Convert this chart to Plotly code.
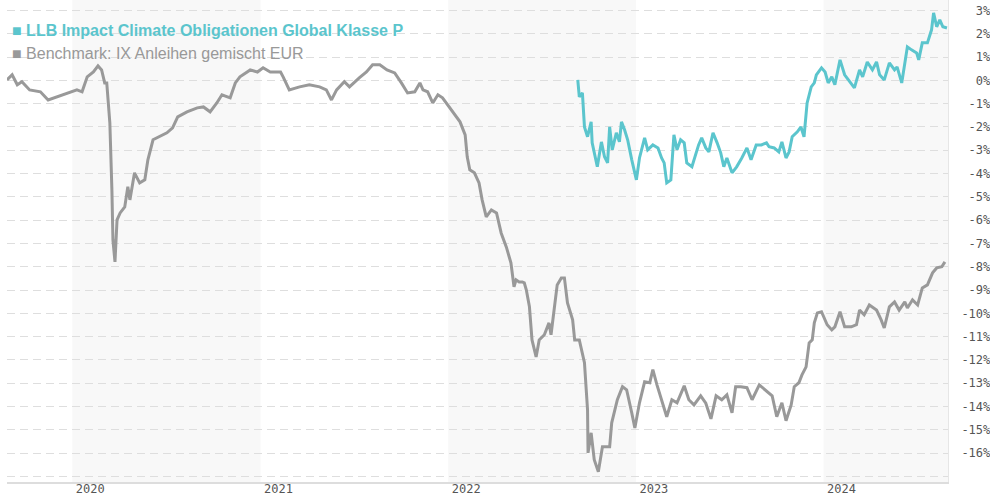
import plotly.graph_objects as go

# ---------------- data ----------------
bench_dates = [
    "2019-08-27", "2019-09-06", "2019-09-16", "2019-09-25", "2019-10-10", "2019-10-31", "2019-11-15",
    "2019-12-02", "2019-12-21", "2020-01-10", "2020-01-20", "2020-01-30", "2020-02-11", "2020-02-20",
    "2020-02-27", "2020-03-04", "2020-03-08", "2020-03-14", "2020-03-18", "2020-03-20", "2020-03-24",
    "2020-03-28", "2020-04-03", "2020-04-12", "2020-04-18", "2020-04-22", "2020-05-01", "2020-05-11",
    "2020-05-21", "2020-05-27", "2020-06-06", "2020-06-19", "2020-07-03", "2020-07-14", "2020-07-24",
    "2020-08-11", "2020-08-31", "2020-09-12", "2020-09-25", "2020-10-08", "2020-10-18", "2020-11-03",
    "2020-11-13", "2020-11-22", "2020-12-12", "2020-12-26", "2021-01-06", "2021-01-20", "2021-02-09",
    "2021-02-14", "2021-02-26", "2021-03-18", "2021-04-06", "2021-04-26", "2021-05-09", "2021-05-19",
    "2021-05-29", "2021-06-13", "2021-06-23", "2021-07-12", "2021-07-26", "2021-08-07", "2021-08-21",
    "2021-09-04", "2021-09-19", "2021-10-02", "2021-10-14", "2021-10-28", "2021-11-07", "2021-11-13",
    "2021-11-22", "2021-12-02", "2021-12-12", "2021-12-21", "2022-01-03", "2022-01-10", "2022-01-24",
    "2022-02-03", "2022-02-07", "2022-02-12", "2022-02-21", "2022-03-02", "2022-03-08", "2022-03-16",
    "2022-03-26", "2022-04-05", "2022-04-14", "2022-04-24", "2022-05-03", "2022-05-09", "2022-05-13",
    "2022-05-19", "2022-05-25", "2022-05-29", "2022-06-02", "2022-06-08", "2022-06-13", "2022-06-21",
    "2022-06-27", "2022-07-07", "2022-07-16", "2022-07-20", "2022-07-26", "2022-08-01", "2022-08-09",
    "2022-08-15", "2022-08-21", "2022-08-31", "2022-09-04", "2022-09-13", "2022-09-23", "2022-09-29",
    "2022-09-30", "2022-10-06", "2022-10-12", "2022-10-20", "2022-10-28", "2022-11-11", "2022-11-15",
    "2022-11-26", "2022-12-06", "2022-12-14", "2022-12-24", "2022-12-30", "2023-01-08", "2023-01-18",
    "2023-01-28", "2023-02-03", "2023-02-11", "2023-02-22", "2023-03-02", "2023-03-12", "2023-03-22",
    "2023-04-05", "2023-04-14", "2023-04-24", "2023-05-07", "2023-05-17", "2023-05-27", "2023-06-06",
    "2023-06-17", "2023-06-27", "2023-07-07", "2023-07-14", "2023-07-24", "2023-08-05", "2023-08-15",
    "2023-08-29", "2023-09-12", "2023-09-23", "2023-10-02", "2023-10-12", "2023-10-20", "2023-10-30",
    "2023-11-05", "2023-11-14", "2023-11-20", "2023-11-28", "2023-12-04", "2023-12-10", "2023-12-14",
    "2023-12-20", "2023-12-28", "2024-01-08", "2024-01-17", "2024-01-23", "2024-02-02", "2024-02-11",
    "2024-02-24", "2024-03-05", "2024-03-11", "2024-03-20", "2024-03-30", "2024-04-13", "2024-04-22",
    "2024-04-28", "2024-05-08", "2024-05-18", "2024-05-27", "2024-06-07", "2024-06-12", "2024-06-22",
    "2024-07-02", "2024-07-11", "2024-07-21", "2024-07-31", "2024-08-08", "2024-08-18", "2024-08-24",
]
bench_values = [
    0.02, 0.24, -0.19, -0.06, -0.41, -0.49, -0.84,
    -0.71, -0.54, -0.41, -0.49, 0.15, 0.36, 0.62,
    0.45, -0.11, -0.11, -1.82, -4.70, -6.85, -7.79,
    -5.99, -5.69, -5.43, -4.57, -5.13, -3.97, -4.40,
    -4.27, -3.41, -2.55, -2.42, -2.25, -2.04, -1.57,
    -1.35, -1.18, -1.14, -1.35, -0.97, -0.62, -0.75,
    -0.11, 0.15, 0.45, 0.36, 0.54, 0.36, 0.36,
    0.15, -0.41, -0.28, -0.19, -0.28, -0.41, -0.84,
    -0.41, -0.06, -0.28, 0.11, 0.36, 0.67, 0.67,
    0.45, 0.32, -0.11, -0.54, -0.49, -0.11, -0.41,
    -0.49, -0.97, -0.62, -0.75, -1.14, -1.39, -1.78,
    -2.34, -3.28, -3.84, -3.97, -4.40, -5.13, -5.86,
    -5.56, -5.69, -6.55, -7.15, -7.83, -8.86, -8.56,
    -8.65, -8.65, -8.69, -9.00, -9.72, -11.14, -11.87,
    -11.14, -10.92, -10.41, -10.92, -9.72, -8.78, -8.48,
    -8.48, -9.55, -10.28, -11.14, -11.14, -12.12, -14.14,
    -15.99, -15.13, -16.28, -16.80, -15.73, -15.73, -14.70,
    -13.71, -13.15, -13.28, -14.27, -14.92, -13.84, -12.94,
    -12.98, -12.42, -13.07, -13.84, -14.44, -13.71, -13.84,
    -13.11, -13.71, -13.93, -13.54, -13.86, -14.53, -13.54,
    -13.71, -13.50, -14.27, -13.15, -13.15, -13.19, -13.71,
    -13.07, -13.33, -13.54, -14.44, -13.84, -14.61, -13.93,
    -13.15, -12.98, -12.64, -12.30, -11.27, -11.14, -10.41,
    -9.98, -9.93, -10.49, -10.71, -10.58, -9.93, -10.58,
    -10.58, -10.49, -9.86, -10.06, -9.64, -9.86, -10.28,
    -10.63, -9.72, -9.51, -9.86, -9.51, -9.77, -9.42,
    -9.64, -8.91, -8.78, -8.26, -8.05, -8.00, -7.79,
]

fund_dates = [
    "2022-09-10", "2022-09-13", "2022-09-19", "2022-09-23", "2022-09-29", "2022-10-06", "2022-10-08",
    "2022-10-18", "2022-10-26", "2022-11-01", "2022-11-07", "2022-11-11", "2022-11-16", "2022-11-24",
    "2022-11-30", "2022-12-04", "2022-12-10", "2022-12-16", "2022-12-24", "2023-01-02", "2023-01-08",
    "2023-01-18", "2023-01-24", "2023-02-03", "2023-02-13", "2023-02-20", "2023-02-25", "2023-03-02",
    "2023-03-10", "2023-03-16", "2023-03-22", "2023-03-29", "2023-04-05", "2023-04-10", "2023-04-20",
    "2023-04-28", "2023-05-03", "2023-05-09", "2023-05-17", "2023-05-23", "2023-05-31", "2023-06-08",
    "2023-06-15", "2023-06-21", "2023-06-27", "2023-07-07", "2023-07-16", "2023-07-26", "2023-08-05",
    "2023-08-13", "2023-08-23", "2023-09-02", "2023-09-12", "2023-09-17", "2023-09-27", "2023-10-06",
    "2023-10-12", "2023-10-20", "2023-10-26", "2023-11-01", "2023-11-11", "2023-11-18", "2023-11-24",
    "2023-11-30", "2023-12-08", "2023-12-14", "2023-12-18", "2023-12-28", "2024-01-04", "2024-01-10",
    "2024-01-17", "2024-01-23", "2024-02-02", "2024-02-11", "2024-02-24", "2024-03-01", "2024-03-11",
    "2024-03-17", "2024-03-26", "2024-04-05", "2024-04-13", "2024-04-19", "2024-04-28", "2024-05-08",
    "2024-05-18", "2024-05-23", "2024-06-01", "2024-06-07", "2024-06-12", "2024-06-20", "2024-06-30",
    "2024-07-04", "2024-07-11", "2024-07-21", "2024-07-29", "2024-08-02", "2024-08-08", "2024-08-14",
    "2024-08-20", "2024-08-28",
]
fund_values = [
    0.02, -0.71, -0.54, -2.00, -2.42, -1.78, -2.68,
    -3.71, -2.64, -3.28, -3.54, -2.00, -2.98, -2.25,
    -2.64, -1.78, -2.12, -2.55, -3.41, -4.27, -3.33,
    -2.47, -2.98, -2.77, -2.90, -3.33, -3.54, -4.40,
    -4.27, -2.34, -2.98, -2.55, -2.68, -3.54, -3.71,
    -3.11, -2.77, -2.47, -2.90, -3.07, -2.25, -2.68,
    -3.11, -3.71, -3.33, -3.97, -3.71, -3.33, -2.90,
    -3.41, -2.77, -2.77, -2.68, -2.85, -2.90, -3.07,
    -2.64, -3.33, -3.07, -2.42, -2.21, -2.00, -2.42,
    -0.97, -0.28, -0.11, 0.24, 0.54, 0.36, -0.11,
    0.15, -0.19, 0.88, 0.24, -0.11, -0.32, 0.45,
    0.15, 0.79, 0.45, 0.79, 0.24, 0.02, 0.75,
    0.45, 0.58, -0.11, 0.75, 1.44, 1.31, 1.18,
    0.88, 1.61, 1.61, 2.17, 2.90, 2.30, 2.60,
    2.30, 2.25,
]

fund_name = "LLB Impact Climate Obligationen Global Klasse P"
bench_name = "Benchmark: IX Anleihen gemischt EUR"

year_starts = ["2020-01-01", "2021-01-01", "2022-01-01", "2023-01-01", "2024-01-01"]
year_labels = ["2020", "2021", "2022", "2023", "2024"]
shaded_years = [("2020-01-01", "2021-01-01"), ("2022-01-01", "2023-01-01"), ("2024-01-01", "2025-01-01")]

y_ticks = list(range(-17, 4))
y_labels = ["" if v == -17 else f"{v}%" for v in y_ticks]

# ---------------- styles ----------------
TEAL = "#5bc5cd"
GREY = "#999999"
TICK_FONT = dict(family="DejaVu Sans Mono", size=12, color="#555555")

fig = go.Figure()
fig.add_trace(go.Scatter(x=bench_dates, y=bench_values, mode="lines", name=bench_name,
                         line=dict(color=GREY, width=3), showlegend=False))
fig.add_trace(go.Scatter(x=fund_dates, y=fund_values, mode="lines", name=fund_name,
                         line=dict(color=TEAL, width=3), showlegend=False))

for a, b in shaded_years:
    fig.add_shape(type="rect", xref="x", yref="paper", x0=a, x1=b, y0=0, y1=1,
                  fillcolor="#f8f8f8", line=dict(width=0), layer="below")

pad = max(len(t) for t in y_labels)
y_text = ["\u00a0" * (pad - len(t)) + t for t in y_labels]

fig.update_layout(
    width=990, height=500,
    margin=dict(l=7, r=42, t=0, b=18, autoexpand=False),
    paper_bgcolor="white", plot_bgcolor="rgba(0,0,0,0)",
    xaxis=dict(
        type="date", range=["2019-08-27", "2024-08-30"],
        tickvals=year_starts, ticktext=year_labels,
        ticklabelshift=18, ticklabelstandoff=-5,
        showgrid=False, zeroline=False,
        showline=True, linecolor="#dddddd", linewidth=2,
        tickfont=TICK_FONT, ticks="", automargin=False,
    ),
    yaxis=dict(
        side="right", range=[-17.24, 3.45],
        tickvals=y_ticks, ticktext=y_text,
        showgrid=True, gridcolor="#dedede", griddash="8px,5px", gridwidth=1,
        zeroline=False, showline=True, linecolor="#e6e6e6", linewidth=1,
        tickfont=TICK_FONT, ticks="", ticklabelstandoff=10, automargin=False,
    ),
    annotations=[
        dict(xref="paper", yref="paper", x=0, y=1, xanchor="left", yanchor="middle",
             xshift=3, yshift=-30, showarrow=False,
             text="<b>\u25a0 " + fund_name + "</b>",
             font=dict(family="Liberation Sans", size=16, color=TEAL)),
        dict(xref="paper", yref="paper", x=0, y=1, xanchor="left", yanchor="middle",
             xshift=3, yshift=-53, showarrow=False,
             text="\u25a0 " + bench_name,
             font=dict(family="Liberation Sans", size=16, color=GREY)),
    ],
)

fig.write_html("out.html", config={"displayModeBar": False},
               post_script="document.body.style.margin='0';document.body.style.overflow='hidden';")
